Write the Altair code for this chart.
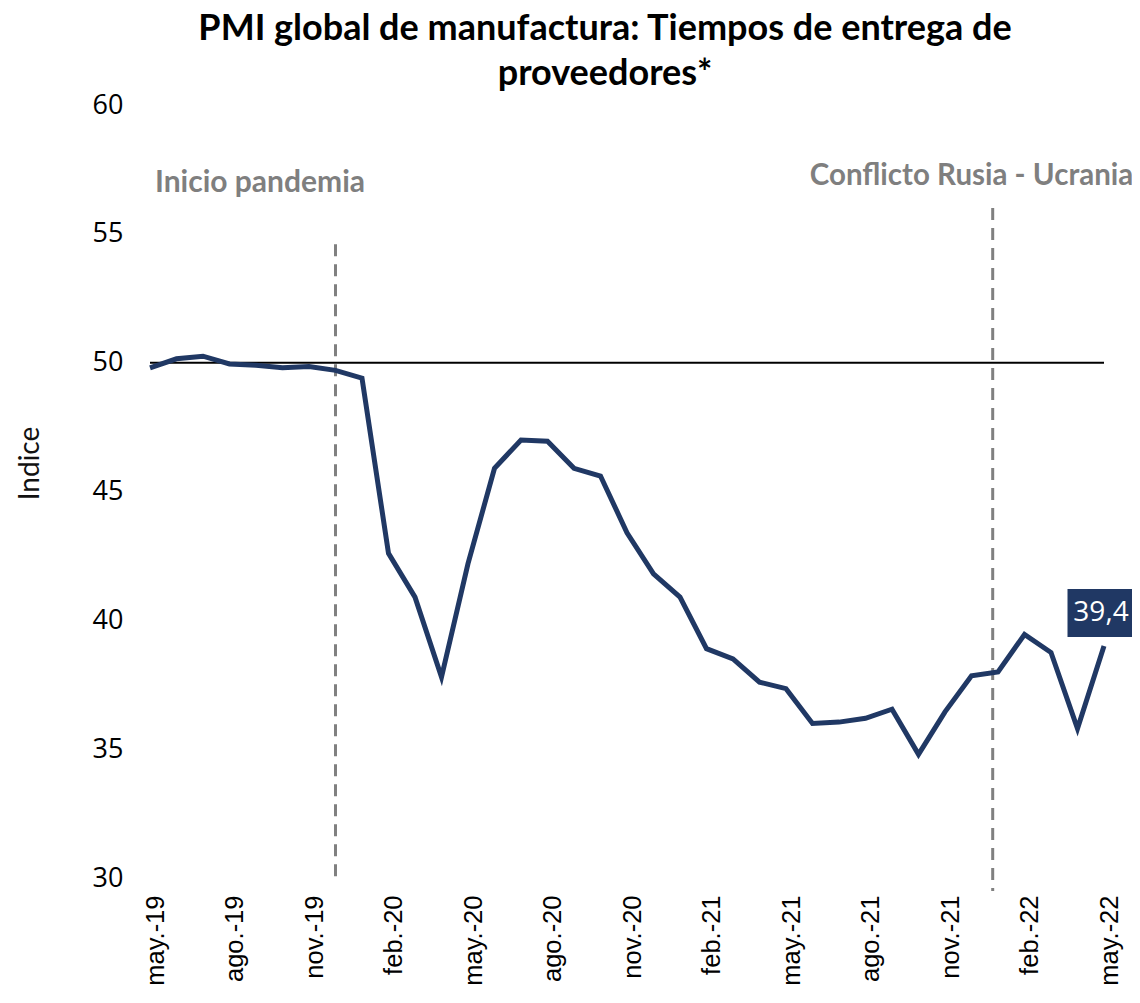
import altair as alt
import pandas as pd

months = ["may.-19","jun.-19","jul.-19","ago.-19","sep.-19","oct.-19","nov.-19","dic.-19",
          "ene.-20","feb.-20","mar.-20","abr.-20","may.-20","jun.-20","jul.-20","ago.-20",
          "sep.-20","oct.-20","nov.-20","dic.-20","ene.-21","feb.-21","mar.-21","abr.-21",
          "may.-21","jun.-21","jul.-21","ago.-21","sep.-21","oct.-21","nov.-21","dic.-21",
          "ene.-22","feb.-22","mar.-22","abr.-22","may.-22"]
values = [49.8, 50.15, 50.25, 49.95, 49.9, 49.8, 49.85, 49.7,
          49.4, 42.6, 40.9, 37.8, 42.2, 45.9, 47.0, 46.95,
          45.9, 45.6, 43.4, 41.8, 40.9, 38.9, 38.5, 37.6,
          37.35, 36.0, 36.05, 36.2, 36.55, 34.8, 36.45, 37.85,
          38.0, 39.45, 38.75, 35.8, 39.0]
last_label = "39,4"
tick_idx = list(range(0, 37, 3))

events = ["Inicio pandemia", "Conflicto Rusia - Ucrania"]
event_x = [7, 31.8]
event_top = [54.6, 56.0]
event_label_x = [0, 31.0]
event_label_y = [56.98, 57.26]

df = pd.DataFrame({"i": list(range(len(months))), "mes": months, "v": values})
ev = pd.DataFrame({"x": event_x, "top": event_top, "bottom": [30, 29.5]})
evl1 = pd.DataFrame({"x": [event_label_x[0]], "y": [event_label_y[0]], "t": [events[0]]})
evl2 = pd.DataFrame({"x": [event_label_x[1]], "y": [event_label_y[1]], "t": [events[1]]})
ref = pd.DataFrame({"x": [0], "x2": [36], "y": [50]})
lastdf = df.tail(1).assign(t=last_label)

label_arr = "[" + ",".join("'" + m + "'" for m in months) + "]"

xscale = alt.Scale(domain=[0, 36], nice=False, zero=False)
yscale = alt.Scale(domain=[30, 60], nice=False, zero=False)

xenc = alt.X("i:Q", scale=xscale,
             axis=alt.Axis(values=tick_idx, labelExpr=label_arr + "[datum.value]",
                           labelAngle=270, labelAlign="right", labelBaseline="middle",
                           labelFont="Liberation Sans", labelFontSize=25.5, labelColor="#000000",
                           labelPadding=17, labelOffset=5, labelBound=False, labelFlush=False,
                           labelOverlap=False,
                           domain=False, ticks=False, grid=False, title=None))
yenc = alt.Y("v:Q", scale=yscale,
             axis=alt.Axis(values=[30, 35, 40, 45, 50, 55, 60], labelFont="Open Sans",
                           labelFontSize=27, labelColor="#000000", labelPadding=27,
                           domain=False, ticks=False, grid=False,
                           title="Indice", titleFont="Lato", titleFontWeight="normal",
                           titleFontSize=28, titleColor="#111111",
                           titleX=-120, titleY=358, titleAngle=270,
                           titleAlign="center", titleBaseline="middle"))

line = alt.Chart(df).mark_line(color="#203864", strokeWidth=5, strokeJoin="miter").encode(x=xenc, y=yenc)

hline = alt.Chart(ref).mark_rule(color="#000000", strokeWidth=2).encode(
    x=alt.X("x:Q", scale=xscale), x2="x2:Q", y=alt.Y("y:Q", scale=yscale))

vlines = alt.Chart(ev).mark_rule(color="#808080", strokeWidth=3, strokeDash=[12, 8]).encode(
    x=alt.X("x:Q", scale=xscale), y=alt.Y("top:Q", scale=yscale), y2="bottom:Q")

t1 = alt.Chart(evl1).mark_text(align="left", dx=5, baseline="middle", font="Lato", fontWeight="bold",
                               fontSize=30, color="#7f7f7f").encode(
    x=alt.X("x:Q", scale=xscale), y=alt.Y("y:Q", scale=yscale), text="t:N")
t2 = alt.Chart(evl2).mark_text(align="center", baseline="middle", font="Lato", fontWeight="bold",
                               fontSize=29.5, color="#7f7f7f").encode(
    x=alt.X("x:Q", scale=xscale), y=alt.Y("y:Q", scale=yscale), text="t:N")

box = alt.Chart(lastdf).mark_rect(width=65, height=48, color="#203864", xOffset=-4, yOffset=-33).encode(
    x=alt.X("i:Q", scale=xscale), y=alt.Y("v:Q", scale=yscale))
boxt = alt.Chart(lastdf).mark_text(color="white", font="Open Sans", fontSize=28, baseline="middle",
                                   align="center", xOffset=-3, yOffset=-33).encode(
    x=alt.X("i:Q", scale=xscale), y=alt.Y("v:Q", scale=yscale), text="t:N")

chart = alt.layer(hline, vlines, line, t1, t2, box, boxt).properties(
    width=954, height=773,
    title=alt.TitleParams(["PMI global de manufactura: Tiempos de entrega de", "proveedores*"],
                          font="Lato", fontSize=36, fontWeight="bold", color="#000000",
                          anchor="middle", dx=-22, lineHeight=45, offset=-2),
    autosize=alt.AutoSizeParams(type="none"),
    padding={"left": 142, "top": 97, "right": 28, "bottom": 110},
).configure(background="white", view=alt.ViewConfig(strokeWidth=0))

chart.save("out.html", embed_options={"renderer": "svg", "actions": False})
